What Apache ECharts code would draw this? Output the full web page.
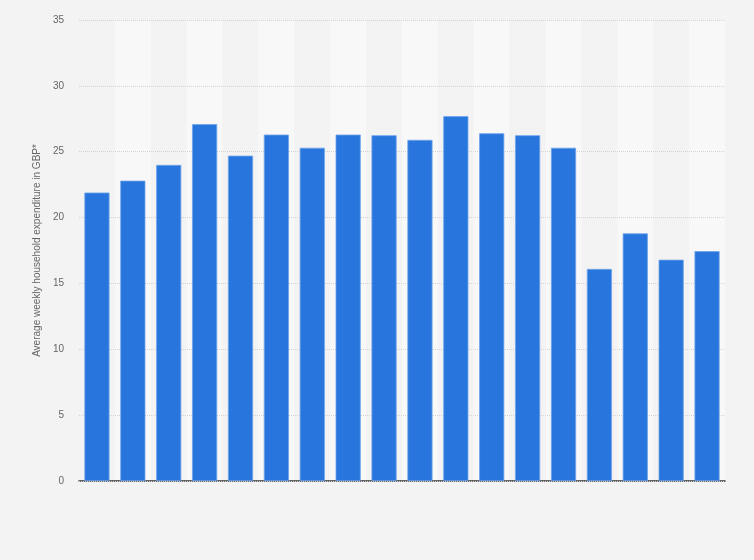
<!DOCTYPE html>
<html>
<head>
<meta charset="utf-8">
<title>Average weekly household expenditure</title>
<script src="https://cdn.jsdelivr.net/npm/echarts@6/dist/echarts.min.js"></script>
<style>
  html, body { margin: 0; padding: 0; background: #f3f3f3; }
  #chart { width: 754px; height: 560px; }
</style>
</head>
<body>
<div id="chart"></div>
<script>
// 18 periods, no labels shown on the x axis in the reference
const categories = ["1", "2", "3", "4", "5", "6", "7", "8", "9",
  "10", "11", "12", "13", "14", "15", "16", "17", "18"];
const spending = [21.9, 22.8, 24.0, 27.1, 24.7, 26.3, 25.3, 26.3, 26.25,
  25.9, 27.7, 26.4, 26.25, 25.3, 16.1, 18.8, 16.8, 17.45];
const yTicks = [0, 5, 10, 15, 20, 25, 30, 35];

let chart;

function initChart() {
  chart = echarts.init(document.getElementById("chart"));
  chart.setOption({
    backgroundColor: "#f3f3f3",
    animation: false,
    grid: { left: 79, right: 29, top: 20, bottom: 79 },
    xAxis: {
      type: "category",
      data: categories,
      z: 0,
      axisLine: { lineStyle: { color: "#333", width: 1.5 } },
      axisTick: { show: false },
      axisLabel: { show: false },
      splitArea: {
        show: true,
        areaStyle: { color: ["rgba(243,243,243,1)", "rgba(248,248,248,1)"] }
      }
    },
    yAxis: {
      type: "value",
      z: 1,
      min: yTicks[0],
      max: yTicks[yTicks.length - 1],
      interval: 5,
      name: "Average weekly household expenditure in GBP*",
      nameLocation: "middle",
      nameGap: 28,
      nameTextStyle: { color: "#666", fontSize: 10, fontFamily: "Liberation Sans, Arial" },
      axisLine: { show: false },
      axisTick: { show: false },
      axisLabel: { color: "#666", fontSize: 10, margin: 15, fontFamily: "Liberation Sans, Arial" },
      splitLine: { lineStyle: { color: "#d3d3d3", type: [1, 1] } }
    },
    series: [{
      type: "bar",
      data: spending,
      barCategoryGap: "30%",
      z: 3,
      itemStyle: { color: "#2876dd", borderColor: "#6fa3ea", borderWidth: 0.8 }
    }]
  });
}

window.onload = function () {
  initChart();
};
</script>
</body>
</html>
